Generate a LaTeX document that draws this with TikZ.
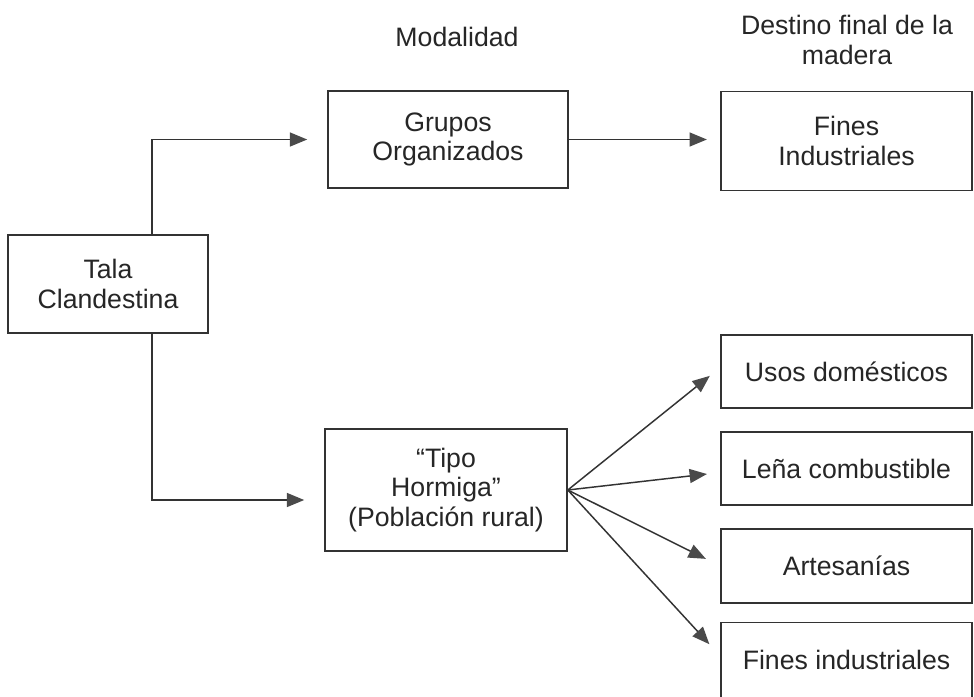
\documentclass[tikz,border=0pt]{standalone}
\usepackage{fontspec}
\setmainfont{Liberation Sans}
\usetikzlibrary{arrows.meta,calc}
\definecolor{ink}{HTML}{262626}
\definecolor{lin}{HTML}{333333}
\definecolor{tip}{HTML}{4A4A4A}
\begin{document}
\begin{tikzpicture}[x=0.75pt,y=-0.75pt,
  every node/.style={font=\fontsize{20}{22}\selectfont, text=ink},
  boxnode/.style={draw=lin, line width=1.2pt, rectangle, align=center, inner sep=0pt},
  arr/.style={draw=lin, line width=1.1pt, -{Triangle[length=13pt,width=10.5pt,fill=tip,color=tip]}},
  header/.style={align=center}]
\useasboundingbox[fill=white] (0,0) rectangle (974,696);
% headers
\node[header] (hmod) at (457,37) {Modalidad};
\node[header] (hdest) at (847,40) {Destino final de la\\madera};
% boxes
\node[boxnode, minimum width=150pt, minimum height=73.5pt] (tala) at (108,284) {Tala\\Clandestina};
\node[boxnode, minimum width=180pt, minimum height=72.75pt] (grupos) at (448,139.5) {Grupos\\Organizados};
\node[boxnode, minimum width=188.25pt, minimum height=74.25pt] (fines1) at (846.5,141) {Fines\\Industriales};
\node[boxnode, minimum width=181.5pt, minimum height=91.5pt] (tipo) at (446,490) {“Tipo\\Hormiga”\\(Población rural)};
\node[boxnode, minimum width=188.25pt, minimum height=54.75pt] (usos) at (846.5,371.5) {Usos domésticos};
\node[boxnode, minimum width=188.25pt, minimum height=54.75pt] (lena) at (846.5,468.5) {Leña combustible};
\node[boxnode, minimum width=188.25pt, minimum height=55.5pt] (arte) at (846.5,566) {Artesanías};
\node[boxnode, minimum width=188.25pt, minimum height=56pt] (fines2) at (846.5,660) {Fines industriales};
% connectors
\draw[arr, shorten >=15pt] ([xshift=33pt]tala.north) |- (grupos.west);
\draw[arr, shorten >=15pt] ([xshift=33pt]tala.south) |- ([yshift=-7.5pt]tipo.west);
\draw[arr, shorten >=10pt] (grupos.east) -- (grupos.east -| fines1.west);
\draw[arr, shorten >=10pt] (tipo.east) -- ([yshift=3pt]usos.west);
\draw[arr, shorten >=10pt] (tipo.east) -- ([yshift=-3pt]lena.west);
\draw[arr, shorten >=12pt] (tipo.east) -- ([yshift=0pt]arte.west);
\draw[arr, shorten >=12pt] (tipo.east) -- ([yshift=3pt]fines2.west);
\end{tikzpicture}
\end{document}
